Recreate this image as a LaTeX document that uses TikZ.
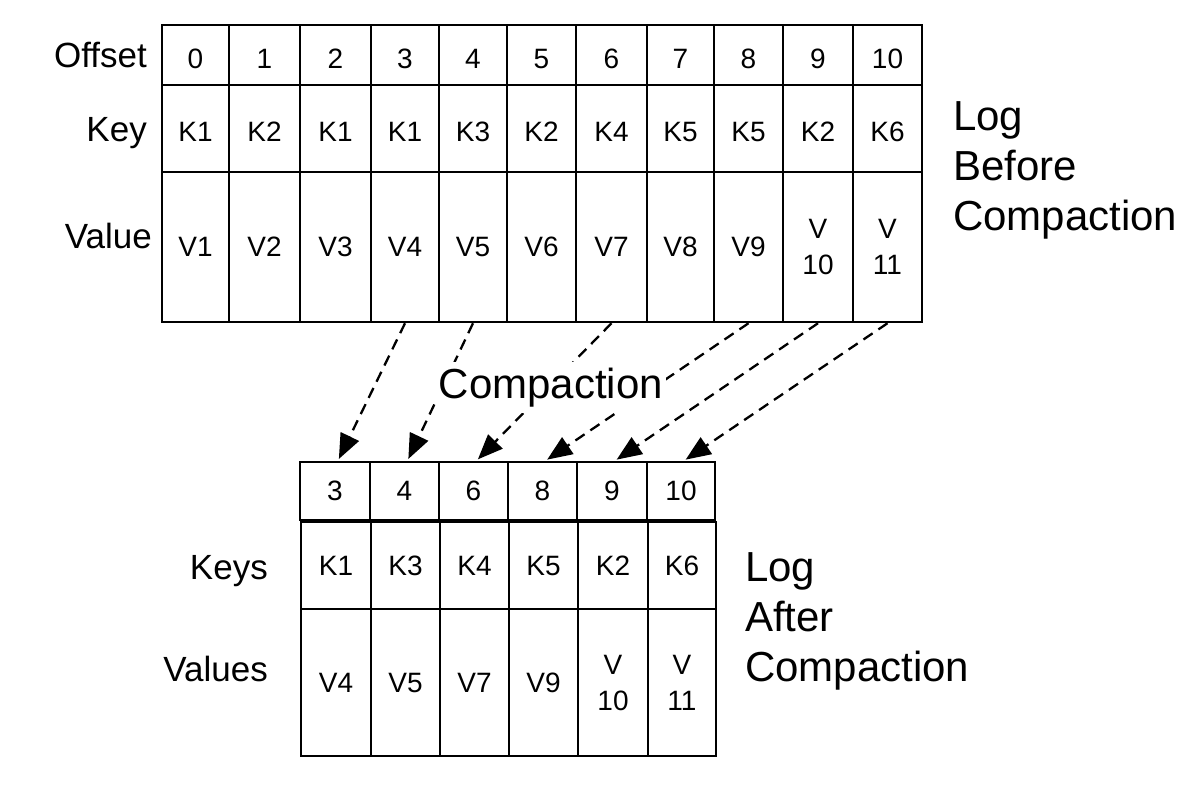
\documentclass[tikz,border=0pt]{standalone}
\usepackage{fontspec}
\setmainfont{Liberation Sans}
\usetikzlibrary{arrows.meta}
\begin{document}
\begin{tikzpicture}[x=1pt,y=-1pt,
  cell/.style={draw, line width=2.5pt, inner sep=0pt, align=center, font=\fontsize{28}{36}\selectfont},
  low/.style={text height=26pt, text depth=0pt},
  lbl/.style={inner sep=0pt, font=\fontsize{35}{42}\selectfont},
  big/.style={inner sep=0pt, align=left, font=\fontsize{42}{50}\selectfont},
  flow/.style={line width=2.3pt, dash pattern=on 11pt off 7pt, shorten >=2pt, -{Triangle[length=25pt,width=20pt]}}
]
\useasboundingbox (0,0) rectangle (1187,793);
% top table
\foreach \n/\l/\r/\k/\v in {0/162/229/K1/V1, 1/229/300/K2/V2, 2/300/371/K1/V3, 3/371/439/K1/V4, 4/439/507/K3/V5, 5/507/576/K2/V6, 6/576/647/K4/V7, 7/647/714/K5/V8, 8/714/783/K5/V9, 9/783/853/K2/{V\\10}, 10/853/922/K6/{V\\11}} {
  \node[cell, low, minimum width={(\r-\l)*1pt}, minimum height=60pt] (to\n) at ({(\l+\r)/2}, 55) {\n};
  \node[cell, low, minimum width={(\r-\l)*1pt}, minimum height=87pt] (tk\n) at ({(\l+\r)/2}, 128.5) {\k};
  \node[cell, minimum width={(\r-\l)*1pt}, minimum height=150pt] (tv\n) at ({(\l+\r)/2}, 247) {\v};
}
% bottom table
\foreach \n/\o/\l/\r/\k/\v in {0/3/300/370/K1/V4, 1/4/370/439/K3/V5, 2/6/439/508/K4/V7, 3/8/508/577/K5/V9, 4/9/577/647/K2/{V\\10}, 5/10/647/715/K6/{V\\11}} {
  \node[cell, minimum width={(\r-\l)*1pt}, minimum height=58pt] (bo\n) at ({(\l+\r)/2}, 491) {\o};
  \node[cell, minimum width={(\r-\l)*1pt}, minimum height=87pt] (bk\n) at ({(\l+\r)/2+1}, 565.5) {\k};
  \node[cell, minimum width={(\r-\l)*1pt}, minimum height=147pt] (bv\n) at ({(\l+\r)/2+1}, 682.5) {\v};
}
% row labels
\node[lbl, anchor=base east] (lo) at (147,67) {Offset};
\node[lbl, anchor=base east] (lk) at (147,141) {Key};
\node[lbl, anchor=base east] (lv) at (152,248) {Value};
\node[lbl, anchor=base east] (lks) at (268,579) {Keys};
\node[lbl, anchor=base east] (lvs) at (268,681) {Values};
% side titles
\node[big, anchor=north west] (before) at (953,101) {Log\\Before\\Compaction};
\node[big, anchor=north west] (after) at (745,552) {Log\\After\\Compaction};
% arrows
\draw[flow] (tv3.south) -- ([xshift=3pt]bo0.north);
\draw[flow] (tv4.south) -- ([xshift=3pt]bo1.north);
\draw[flow] (tv6.south) -- ([xshift=3pt]bo2.north);
\draw[flow] (tv8.south) -- ([xshift=3pt]bo3.north);
\draw[flow] (tv9.south) -- ([xshift=3pt]bo4.north);
\draw[flow] (tv10.south) -- ([xshift=3pt]bo5.north);
\node[fill=white, inner xsep=3pt, inner ysep=6pt, anchor=base, font=\fontsize{42}{50}\selectfont] (comp) at (551,398) {Compaction};
\end{tikzpicture}
\end{document}
